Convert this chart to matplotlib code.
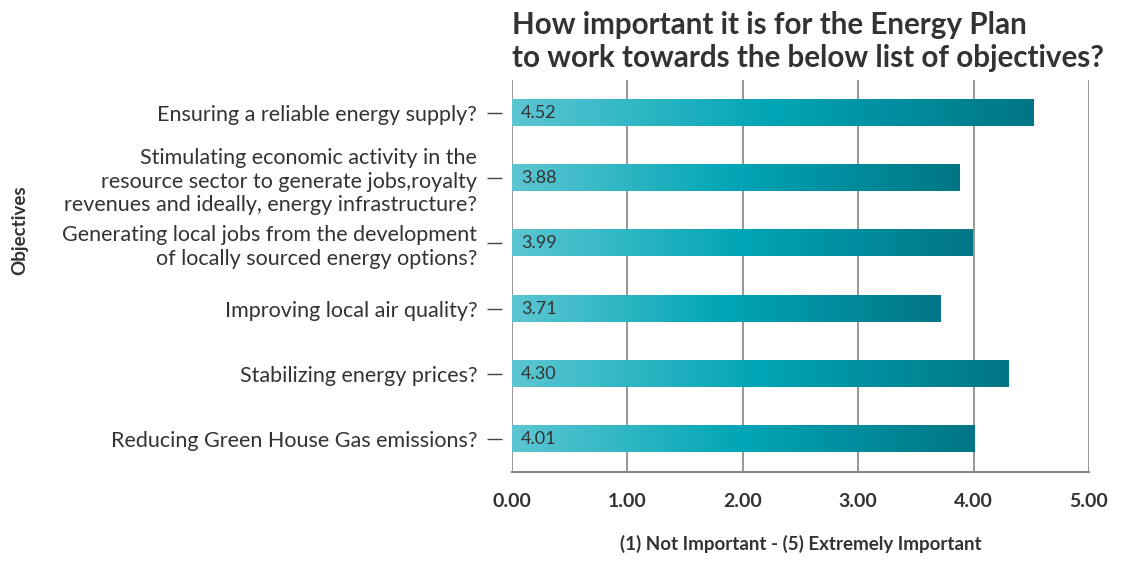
import numpy as np
import matplotlib.pyplot as plt
from matplotlib.colors import LinearSegmentedColormap

# data
objectives = [
    "Ensuring a reliable energy supply?",
    "Stimulating economic activity in the\nresource sector to generate jobs,royalty\nrevenues and ideally, energy infrastructure?",
    "Generating local jobs from the development\nof locally sourced energy options?",
    "Improving local air quality?",
    "Stabilizing energy prices?",
    "Reducing Green House Gas emissions?",
]
scores = [4.52, 3.88, 3.99, 3.71, 4.30, 4.01]
xticks = [0, 1, 2, 3, 4, 5]

plt.rcParams['font.family'] = ['Lato', 'DejaVu Sans']
txt = '#333333'

fig = plt.figure(figsize=(11.21, 5.61), dpi=100)
ax = fig.add_axes([512/1121, 1 - 472/561, 577/1121, 392/561])

ax.tick_params(axis='y', length=11, width=1, color='#444444', pad=7,
               labelsize=15.5, labelcolor=txt)
ax.tick_params(axis='x', length=0, pad=15, labelsize=14, labelcolor=txt)

cmap = LinearSegmentedColormap.from_list('teal', ['#5cc6d2', '#00a5b5', '#007585'])
grad = np.linspace(0, 1, 256).reshape(1, -1)
ypos = np.arange(len(scores))
h = 0.4
for y, v in zip(ypos, scores):
    ax.imshow(grad, cmap=cmap, aspect='auto', extent=[0, v, y + h/2, y - h/2],
              zorder=3, interpolation='bilinear')
    ax.text(0.08, y, f"{v:.2f}", va='center', ha='left', fontsize=13,
            color=txt, zorder=4)

ax.set_xlim(0, 5)
ax.set_ylim(len(scores) - 0.5, -0.5)
ax.set_xticks(xticks)
ax.set_xticklabels([f"{t:.2f}" for t in xticks], fontweight='bold')
ax.set_yticks(ypos)
ax.set_yticklabels(objectives)
for lab, ls in zip(ax.get_yticklabels(), [1, 0.9, 1.2, 1, 1, 1]):
    lab.set_linespacing(ls)
    lab.set_fontsize(15.5)

ax.grid(axis='x', color='#7a7a7a', linewidth=1.1, zorder=0)
ax.set_axisbelow(True)
for s in ['top', 'right']:
    ax.spines[s].set_visible(False)
ax.spines['left'].set_position(('outward', 7))
ax.spines['left'].set_visible(False)
ax.spines['bottom'].set_color('#8a8a8a')
ax.spines['bottom'].set_linewidth(1.5)

ax.set_xlabel("(1) Not Important - (5) Extremely Important", fontsize=13.5,
              fontweight='bold', color=txt, labelpad=18)
fig.text(20/1121, 1 - 230/561, "Objectives", rotation=90, fontsize=13.5,
         fontweight='bold', color=txt, ha='center', va='center')
fig.text(512/1121, 1 - 11/561,
         "How important it is for the Energy Plan\nto work towards the below list of objectives?",
         fontsize=21.3, fontweight='bold', color=txt, ha='left', va='top',
         linespacing=1.2)

fig.savefig('out.png', dpi=100)
